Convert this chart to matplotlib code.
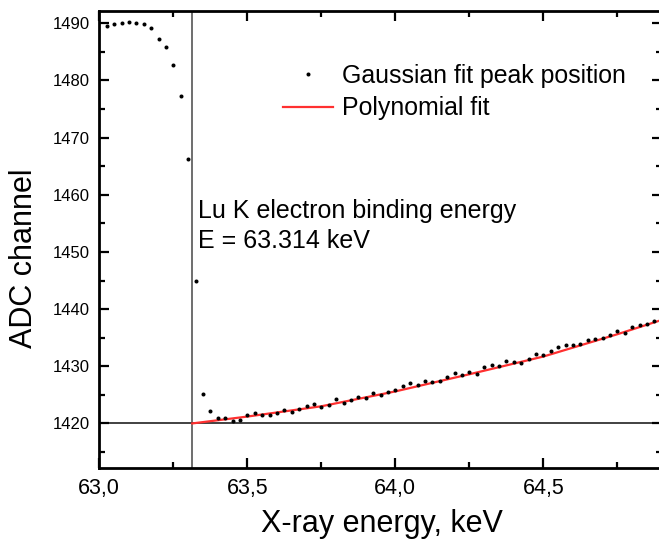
import matplotlib
matplotlib.use('Agg')
import matplotlib.pyplot as plt
from matplotlib.ticker import MultipleLocator

plt.rcParams['font.family'] = ['Liberation Sans', 'DejaVu Sans']

# Gaussian fit peak positions (step 0.025 keV)
energy = [63.025, 63.05, 63.075, 63.1, 63.125, 63.15, 63.175, 63.2, 63.225, 63.25,
          63.275, 63.3, 63.325, 63.35, 63.375, 63.4, 63.425, 63.45, 63.475, 63.5,
          63.525, 63.55, 63.575, 63.6, 63.625, 63.65, 63.675, 63.7, 63.725, 63.75,
          63.775, 63.8, 63.825, 63.85, 63.875, 63.9, 63.925, 63.95, 63.975, 64.0,
          64.025, 64.05, 64.075, 64.1, 64.125, 64.15, 64.175, 64.2, 64.225, 64.25,
          64.275, 64.3, 64.325, 64.35, 64.375, 64.4, 64.425, 64.45, 64.475, 64.5,
          64.525, 64.55, 64.575, 64.6, 64.625, 64.65, 64.675, 64.7, 64.725, 64.75,
          64.775, 64.8, 64.825, 64.85, 64.875]
channel = [1489.5, 1489.8, 1490.0, 1490.3, 1490.1, 1489.9, 1489.2, 1487.3, 1485.9, 1482.7,
           1477.3, 1466.2, 1445.0, 1425.2, 1422.2, 1420.9, 1420.9, 1420.4, 1420.6, 1421.4,
           1421.8, 1421.4, 1421.4, 1421.9, 1422.4, 1422.0, 1422.6, 1423.0, 1423.4, 1422.9,
           1423.2, 1424.3, 1423.6, 1424.1, 1424.6, 1424.5, 1425.3, 1424.9, 1425.5, 1425.8,
           1426.6, 1427.1, 1426.8, 1427.5, 1427.2, 1427.4, 1428.2, 1428.8, 1428.4, 1429.0,
           1428.7, 1429.8, 1430.2, 1430.0, 1431.0, 1430.7, 1430.5, 1431.3, 1432.2, 1431.9,
           1432.7, 1433.3, 1433.8, 1433.8, 1433.9, 1434.6, 1434.8, 1435.0, 1435.5, 1436.2,
           1435.9, 1436.9, 1437.2, 1437.4, 1438.0]

# polynomial fit curve
fit_energy = [63.314, 63.5, 63.75, 64.0, 64.25, 64.5, 64.75, 64.9]
fit_channel = [1420.0, 1421.2, 1423.0, 1425.6, 1428.6, 1431.7, 1435.6, 1438.1]

binding_energy = 63.314
binding_channel = 1420

xticks = [63.0, 63.5, 64.0, 64.5]
xticklabels = ['63,0', '63,5', '64,0', '64,5']
yticks = [1420, 1430, 1440, 1450, 1460, 1470, 1480, 1490]

fig = plt.figure(figsize=(6.59, 5.42), dpi=100)
ax = fig.add_axes([0.1507, 0.1365, 0.8534, 0.8432])

ax.axvline(binding_energy, color='#555555', lw=1.2, zorder=1)
ax.axhline(binding_channel, color='#333333', lw=1.3, zorder=1)

ax.plot(energy, channel, 'o', color='black', ms=2.9, mew=0,
        label='Gaussian fit peak position', zorder=3)
ax.plot(fit_energy, fit_channel, '-', color='#ff3030', lw=1.6,
        label='Polynomial fit', zorder=2)

ax.set_xlim(63.0, 64.9)
ax.set_ylim(1412.2, 1492.15)
ax.set_xticks(xticks)
ax.set_xticklabels(xticklabels)
ax.set_yticks(yticks)
ax.xaxis.set_minor_locator(MultipleLocator(0.25))
ax.yaxis.set_minor_locator(MultipleLocator(5))
ax.tick_params(which='both', direction='in', top=True, right=True, width=1.6)
ax.tick_params(which='major', length=7)
ax.tick_params(which='minor', length=4)
ax.tick_params(axis='x', labelsize=15.5, pad=7)
ax.tick_params(axis='y', labelsize=12, pad=7)
for s in ax.spines.values():
    s.set_linewidth(2)

ax.set_xlabel('X-ray energy, keV', fontsize=22)
ax.set_ylabel('ADC channel', fontsize=22)
ax.xaxis.set_label_coords(0.503, -0.09)
ax.yaxis.set_label_coords(-0.108, 0.46)

fig.text(0.3005, 1 - 218 / 542, 'Lu K electron binding energy', fontsize=18, va='baseline')
fig.text(0.3005, 1 - 248 / 542, 'E = 63.314 keV', fontsize=18, va='baseline')

leg = ax.legend(loc='upper left', bbox_to_anchor=(283 / 659, 1 - 64 / 542),
                bbox_transform=fig.transFigure, frameon=False, fontsize=17.9,
                handlelength=2.0, handletextpad=0.36, labelspacing=0.34,
                borderpad=0, borderaxespad=0, markerscale=1.0)

plt.savefig('out.png', dpi=100)
